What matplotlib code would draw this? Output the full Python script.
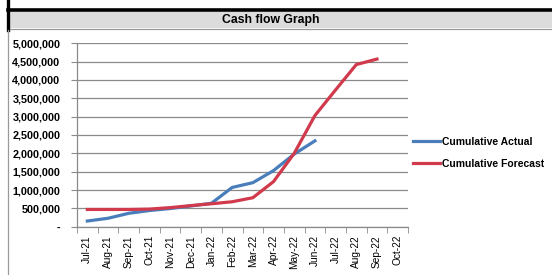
import matplotlib
matplotlib.use("Agg")
import matplotlib.pyplot as plt
from matplotlib.ticker import FuncFormatter, FixedLocator
from matplotlib.patches import Rectangle
from matplotlib.lines import Line2D
import numpy as np

months = ['Jul-21', 'Aug-21', 'Sep-21', 'Oct-21', 'Nov-21', 'Dec-21',
          'Jan-22', 'Feb-22', 'Mar-22', 'Apr-22', 'May-22', 'Jun-22',
          'Jul-22', 'Aug-22', 'Sep-22', 'Oct-22']

cum_actual = [155000, 230000, 365000, 440000, 495000, 565000,
              640000, 1070000, 1200000, 1530000, 1980000, 2340000]

cum_forecast = [470000, 470000, 470000, 480000, 520000, 575000,
                625000, 680000, 790000, 1230000, 2000000, 3030000,
                3730000, 4420000, 4570000]

plt.rcParams['font.family'] = ['Liberation Sans', 'DejaVu Sans']

fig = plt.figure(figsize=(5.52, 2.75), dpi=100)
W, H = 552.0, 275.0

# title band like the spreadsheet chart header
fig.patches.append(Rectangle((9 / W, 1 - 28 / H), 1, 16 / H, transform=fig.transFigure,
                             facecolor='#dcdcdc', edgecolor='none', zorder=0))
fig.lines.append(Line2D([7.5 / W, 1], [1 - 10 / H, 1 - 10 / H], transform=fig.transFigure,
                        color='black', lw=2.6))
fig.lines.append(Line2D([9 / W, 1], [1 - 28.5 / H, 1 - 28.5 / H], transform=fig.transFigure,
                        color='#9a9a9a', lw=0.9))
fig.lines.append(Line2D([7.5 / W, 7.5 / W], [1 - 30 / H, 1], transform=fig.transFigure,
                        color='black', lw=2.4))
fig.lines.append(Line2D([8 / W, 8 / W], [0, 1 - 30 / H], transform=fig.transFigure,
                        color='#9a9a9a', lw=0.9))
fig.text(271 / W, 1 - 20 / H, 'Cash flow Graph', ha='center', va='center',
         fontsize=8.8, fontweight='bold')

ax = fig.add_axes([77 / W, 1 - 226.7 / H, 331 / W, 183.4 / H])

x = np.arange(len(months))
ax.plot(x[:len(cum_actual)], cum_actual, color='#4A7EBB', lw=2.3,
        label='Cumulative Actual', solid_joinstyle='round', zorder=3)
ax.plot(x[:len(cum_forecast)], cum_forecast, color='#D03A4C', lw=2.3,
        label='Cumulative Forecast', solid_joinstyle='round', zorder=3)

ax.set_xlim(-0.5, len(months) - 0.5)
ax.set_ylim(0, 5000000)
ax.set_yticks(np.arange(0, 5000001, 500000))
ax.yaxis.set_major_formatter(FuncFormatter(lambda v, p: '-' if v == 0 else f'{v:,.0f}'))
ax.grid(axis='y', color='#8a8a8a', lw=0.9)
ax.set_axisbelow(True)

ax.set_xticks(x)
ax.set_xticklabels(months, rotation=90, fontsize=7.3)
ax.xaxis.set_minor_locator(FixedLocator(np.arange(-0.5, len(months), 1)))
ax.tick_params(axis='x', which='major', length=0, pad=6)
ax.tick_params(axis='x', which='minor', length=4, color='#8a8a8a', direction='out')
ax.tick_params(axis='y', length=4, color='#8a8a8a', pad=8)
for lab in ax.get_yticklabels():
    lab.set_fontsize(7.8)
    lab.set_fontweight('bold')

for s in ['top', 'right']:
    ax.spines[s].set_visible(False)
for s in ['left', 'bottom']:
    ax.spines[s].set_color('#8a8a8a')
    ax.spines[s].set_linewidth(0.9)

fig.legend(loc='upper left', bbox_to_anchor=(411 / W, 1 - 135 / H), frameon=False,
           prop={'size': 7.5, 'weight': 'bold'}, handlelength=2.6, handletextpad=0.15,
           labelspacing=1.15, borderaxespad=0, borderpad=0.2)

fig.savefig('out.png', dpi=100)
